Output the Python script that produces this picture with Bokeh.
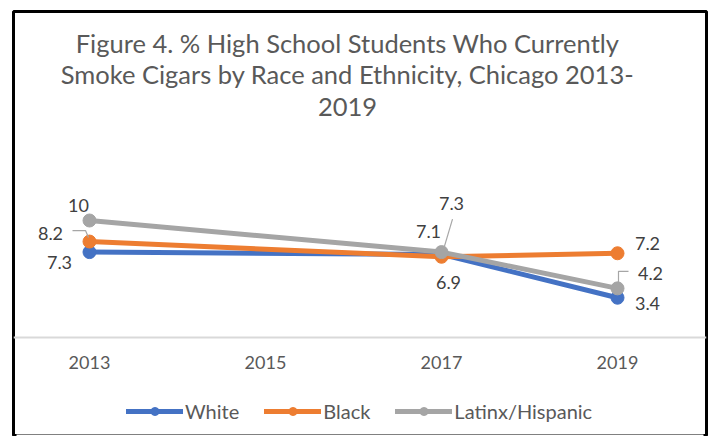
from bokeh.plotting import figure
from bokeh.models import (Range1d, LinearAxis, FixedTicker, Label, Legend, LegendItem,
                          ColumnDataSource, BoxAnnotation)
from bokeh.core.properties import value
from bokeh.embed import file_html
from bokeh.resources import INLINE

# ---- data ----
years = [2013, 2017, 2019]
tick_years = [2013, 2015, 2017, 2019]
white = [7.3, 7.1, 3.4]
black = [8.2, 6.9, 7.2]
latinx = [10, 7.3, 4.2]
series_names = ["White", "Black", "Latinx/Hispanic"]
title_text = ("Figure 4. % High School Students Who Currently\n"
              "Smoke Cigars by Race and Ethnicity, Chicago 2013-\n"
              "2019")

# ---- styles / layout ----
colors = ["#4472C4", "#ED7D31", "#A5A5A5"]
FONT = "Lato"
W, H = 714, 436
FL, FT, FR = 13, 11, 706
PX_PER_YEAR = 88.0
X0 = 89
ZERO_Y = 337
PX_PER_UNIT = 11.7

# label offsets (pixels, y down) per series, per year
label_offsets = [
    [(-30, 10), (-13, -23), (30, 6)],
    [(-39, -8), (7, 26), (30, -10)],
    [(-11, -15), (10, -49), (33, -15)],
]
# leader lines (pixel offsets from point, y down): (series index, year index, polyline)
leaders = [
    (1, 0, [(-17, -11), (-4, -11), (-1, -4)]),
    (2, 1, [(11, -33), (3, -6)]),
    (2, 2, [(11, -17), (1, -17), (1, -6)]),
]

x_start = 2013 - (X0 - FL) / PX_PER_YEAR
x_end = 2013 + (FR - X0) / PX_PER_YEAR
y_start = -(H - ZERO_Y) / PX_PER_UNIT
y_end = (ZERO_Y - FT) / PX_PER_UNIT

p = figure(width=W, height=H, output_backend="svg", toolbar_location=None,
           x_range=Range1d(x_start, x_end), y_range=Range1d(y_start, y_end),
           x_axis_location=None, y_axis_location=None,
           min_border_left=FL, min_border_right=W - FR,
           min_border_top=FT, min_border_bottom=0)
for g in p.grid:
    g.visible = False
p.outline_line_color = "black"
p.outline_line_width = 3
p.background_fill_color = "white"
p.border_fill_color = "white"

xaxis = LinearAxis(fixed_location=0, ticker=FixedTicker(ticks=tick_years))
xaxis.axis_line_color = "#D9D9D9"
xaxis.axis_line_width = 2
xaxis.major_tick_line_color = None
xaxis.minor_tick_line_color = None
xaxis.major_label_text_font = FONT
xaxis.major_label_text_font_size = "18px"
xaxis.major_label_text_color = "#595959"
xaxis.major_label_standoff = 12
p.add_layout(xaxis, "below")

series = [white, black, latinx]
items = []
for name, vals, c in zip(series_names, series, colors):
    rl = p.line(years, vals, line_color=c, line_width=5, line_join="round", line_cap="round")
    rs = p.scatter(years, vals, size=13, fill_color=c, line_color=c)
    items.append(LegendItem(label=name, renderers=[rl, rs]))

# leader lines
xs, ys = [], []
for si, yi, pts in leaders:
    bx, by = years[yi], series[si][yi]
    xs.append([bx + dx / PX_PER_YEAR for dx, dy in pts])
    ys.append([by - dy / PX_PER_UNIT for dx, dy in pts])
p.multi_line(xs, ys, line_color="#A6A6A6", line_width=1.2)

# data labels
lx, ly, lt, ox, oy = [], [], [], [], []
for si, vals in enumerate(series):
    for yi, v in enumerate(vals):
        lx.append(years[yi]); ly.append(v); lt.append(f"{v:g}")
        ox.append(label_offsets[si][yi][0]); oy.append(label_offsets[si][yi][1])
src = ColumnDataSource(dict(x=lx, y=ly, t=lt, ox=ox, oy=oy))
p.text(x="x", y="y", text="t", x_offset="ox", y_offset="oy", source=src,
       text_font=value(FONT), text_font_size="18px", text_color="#404040",
       text_align="center", text_baseline="middle")

title = Label(x=334, y=409, x_units="screen", y_units="screen", text=title_text,
              text_font=FONT, text_font_size="25.5px", text_color="#595959",
              text_align="center", text_baseline="top", text_line_height=1.05)
p.add_layout(title)

legend = Legend(items=items, orientation="horizontal", location=(113, 13),
                padding=0, margin=0, spacing=25, label_standoff=2,
                glyph_width=57, glyph_height=20, label_height=20,
                border_line_color=None, background_fill_alpha=0,
                label_text_font=FONT, label_text_font_size="20px",
                label_text_color="#595959")
p.add_layout(legend)

# hide the lower edge of the outline: the chart frame continues beyond the picture
p.add_layout(BoxAnnotation(bottom=-3, top=2, bottom_units="screen", top_units="screen",
                           left=3, right=690, left_units="screen", right_units="screen",
                           fill_color="white", fill_alpha=1, line_color=None, level="overlay"))

open("out.html", "w").write(file_html(p, INLINE))
